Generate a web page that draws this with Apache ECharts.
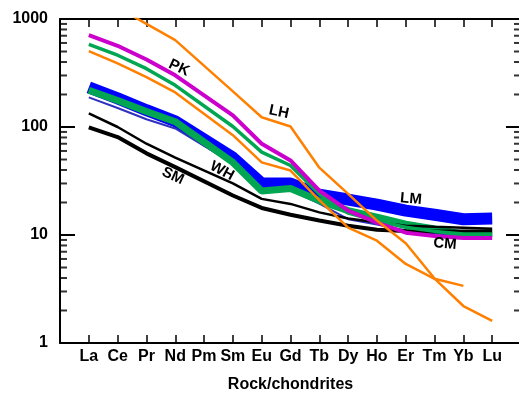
<!DOCTYPE html>
<html>
<head>
<meta charset="utf-8">
<script src="https://cdn.jsdelivr.net/npm/echarts@6/dist/echarts.min.js"></script>
<style>
  html, body { margin: 0; padding: 0; background: #fff; }
  #main { width: 519px; height: 394px; }
</style>
</head>
<body>
<div id="main"></div>
<script>
// REE order on the x axis (Pm has no analyses -> null)
var elements = ['La', 'Ce', 'Pr', 'Nd', 'Pm', 'Sm', 'Eu', 'Gd', 'Tb', 'Dy', 'Ho', 'Er', 'Tm', 'Yb', 'Lu'];

// chondrite normalised values
var lhHigh   = [1700, 1280, 900, 637, null, 214, 123, 101, 42, 24, 13.6, 8.4, 3.95, 2.2, 1.6];
var lhLow    = [504, 388, 290, 209, null, 84, 47, 39.5, 21, 11.7, 8.85, 5.4, 3.93, 3.38, null];
var pk       = [708, 565, 422, 301, null, 128, 70, 49, 25.8, 16.8, 13, 10.5, 9.8, 9.4, 9.4];
var pkGreen  = [581, 462, 347, 243, null, 101, 58.5, 44, 24, 16, 13.5, 11.8, 10.8, 10.2, 10.2];
var lm       = [233, 184, 143, 113, null, 52, 30, 30, 23.6, 21.3, 19.1, 16.8, 15.4, 14, 14.2];
var lmLow    = [188, 150, 118, 97, null, 46, 27, 26, 19.5, 14, 12.5, 11, 10.3, 9.8, 9.8];
var cm       = [219, 176, 139, 112, null, 47, 25.5, 27, 20.8, 16.8, 14.6, 12.6, 11.4, 10.2, 10.5];
var wh       = [134, 100, 70, 52, null, 30, 21.6, 19.4, 16.2, 14.2, 13.1, 12.2, 11.9, 11.7, 11.4];
var sm       = [99, 80.6, 57, 42.5, null, 23.2, 17.8, 15.4, 13.6, 12.2, 11.2, 10.9, 10.8, 10.8, 10.8];

// log axis minor ticks
var minorSteps = [2, 3, 4, 5, 6, 7, 8, 9];
var decades = [1, 10, 100];

function pairs(arr) {
  var out = [];
  arr.forEach(function (v, i) { if (v != null) out.push([i, v]); });
  return out;
}
function line(data, color, width) {
  return {
    type: 'line', data: pairs(data), symbol: 'none', silent: true,
    lineStyle: { color: color, width: width }
  };
}

var minorVals = [];
decades.forEach(function (d) { minorSteps.forEach(function (m) { minorVals.push(m * d); }); });

var font = 'Liberation Sans, Arial, sans-serif';
function tag(text, x, y, deg) {
  return {
    type: 'text', x: x, y: y, rotation: deg * Math.PI / 180, z: 100,
    style: { text: text, font: 'bold 15px ' + font, fill: '#000', align: 'center', verticalAlign: 'middle' }
  };
}

var chart = echarts.init(document.getElementById('main'));
chart.setOption({
  animation: false,
  grid: { left: 60, right: -2, top: 19, bottom: 51, outerBoundsMode: 'none', containLabel: false },
  xAxis: [{
    type: 'value', min: -1, max: 15, interval: 1,
    axisLine: { onZero: false, lineStyle: { color: '#000', width: 2 } },
    axisTick: { inside: true, length: 8, lineStyle: { color: '#000', width: 1.5 } },
    axisLabel: {
      margin: 6, color: '#000', fontWeight: 'bold', fontSize: 16, fontFamily: font,
      formatter: function (v) { return elements[v] || ''; }
    },
    splitLine: { show: false },
    name: 'Rock/chondrites', nameLocation: 'middle', nameGap: 34,
    nameTextStyle: { color: '#000', fontWeight: 'bold', fontSize: 16, fontFamily: font }
  }, {
    type: 'value', position: 'top', min: -1, max: 15, interval: 1,
    axisLine: { onZero: false, lineStyle: { color: '#000', width: 2 } },
    axisTick: { inside: true, length: 8, lineStyle: { color: '#000', width: 1.5 } },
    axisLabel: { show: false },
    splitLine: { show: false }
  }],
  yAxis: [{
    type: 'log', logBase: 10, min: 1, max: 1000,
    axisLine: { onZero: false, lineStyle: { color: '#000', width: 2 } },
    axisTick: { inside: true, length: 15, lineStyle: { color: '#000', width: 2 } },
    axisLabel: {
      margin: 12, color: '#000', fontWeight: 'bold', fontSize: 16, fontFamily: font,
      formatter: function (v) { return String(Math.round(v)); }
    },
    splitLine: { show: false }
  }, {
    type: 'log', logBase: 10, min: 1, max: 1000, position: 'right',
    axisLine: { onZero: false, lineStyle: { color: '#000', width: 2 } },
    axisTick: { inside: true, length: 15, lineStyle: { color: '#000', width: 2 } },
    axisLabel: { show: false },
    splitLine: { show: false }
  }],
  series: [
    line(lm, '#0000ff', 12),
    line(lmLow, '#3030c0', 2),
    line(cm, '#00a651', 7),
    line(wh, '#000', 2.5),
    line(sm, '#000', 4),
    line(pkGreen, '#00a651', 3.5),
    line(pk, '#cc00cc', 4),
    line(lhLow, '#ff8000', 2.5),
    line(lhHigh, '#ff8000', 2.5),
    {
      type: 'scatter', silent: true, clip: false, symbol: 'rect', symbolSize: [7, 2], symbolOffset: [3.5, 0],
      itemStyle: { color: '#000' }, data: minorVals.map(function (v) { return [-1, v]; })
    },
    {
      type: 'scatter', silent: true, clip: false, symbol: 'rect', symbolSize: [7, 2], symbolOffset: [-3.5, 0],
      itemStyle: { color: '#000' }, data: minorVals.map(function (v) { return [15, v]; })
    }
  ],
  graphic: [
    tag('PK', 179, 68, -25),
    tag('LH', 279, 112, -12),
    tag('WH', 222, 171, -28),
    tag('SM', 173, 176, -25),
    tag('LM', 411, 199, -5),
    tag('CM', 445, 244, -5)
  ]
});
</script>
</body>
</html>
